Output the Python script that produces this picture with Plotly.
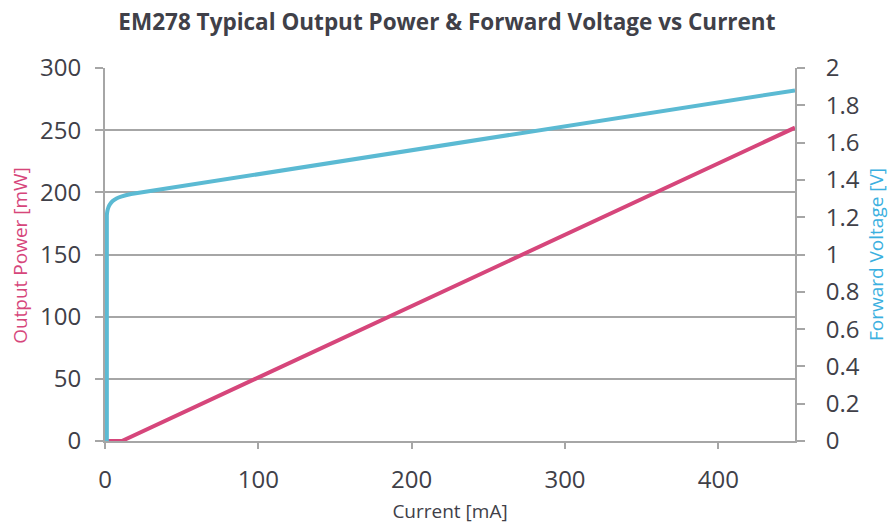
import plotly.graph_objects as go

# Data
power_current = [0, 11, 450]
power_mw = [0, 0, 252]

volt_current = [1.2, 1.2, 1.6, 2.3, 3.3, 5, 7.5, 10.5, 17, 450]
volt_v = [0, 1.21, 1.235, 1.255, 1.27, 1.287, 1.30, 1.31, 1.324, 1.88]

x_ticks = [0, 100, 200, 300, 400]
title_text = "EM278 Typical Output Power & Forward Voltage vs Current"
left_title = "Output Power [mW]"

PINK = "#d6467b"
BLUE = "#5bbad3"
GRID = "#a6a6a6"
TXT = "#404048"
FONT = "Open Sans"

fig = go.Figure()
fig.add_trace(go.Scatter(x=power_current, y=power_mw, mode="lines",
                         line=dict(color=PINK, width=4), yaxis="y", showlegend=False))
fig.add_trace(go.Scatter(x=volt_current, y=volt_v, mode="lines",
                         line=dict(color=BLUE, width=4, shape="spline", smoothing=0.3),
                         yaxis="y2", showlegend=False))

fig.update_layout(
    width=892, height=528,
    paper_bgcolor="white", plot_bgcolor="white",
    margin=dict(l=105, r=97, t=68, b=87, autoexpand=False),
    font=dict(family=FONT, color=TXT),
    title=dict(text="<b>" + title_text + "</b>", x=0.501, xanchor="center",
               y=0.959, yref="container", yanchor="middle",
               font=dict(size=22.5, color=TXT, family=FONT)),
    xaxis=dict(range=[0, 450], tickvals=x_ticks, showgrid=False,
               showline=True, linecolor=GRID, linewidth=2,
               ticks="outside", ticklen=6, tickcolor=GRID, tickwidth=2,
               tickfont=dict(size=24, color=TXT), zeroline=False, automargin=False,
               ticklabelstandoff=10,
               title=dict(text="Current [mA]", font=dict(size=19, color=TXT), standoff=11)),
    yaxis=dict(range=[0, 300], dtick=50, showgrid=True, gridcolor=GRID, gridwidth=1.5,
               showline=True, linecolor=GRID, linewidth=2,
               ticks="outside", ticklen=8, tickcolor=GRID, tickwidth=2,
               tickfont=dict(size=24, color=TXT), zeroline=False, automargin=False,
               ticklabelstandoff=9),
    yaxis2=dict(range=[0, 2], dtick=0.2, overlaying="y", side="right", showgrid=False,
                showline=True, linecolor=GRID, linewidth=2,
                ticks="outside", ticklen=8, tickcolor=GRID, tickwidth=2,
                tickfont=dict(size=24, color=TXT), zeroline=False, automargin=False,
                ticklabelstandoff=16,
                title=dict(text="Forward Voltage [V]", font=dict(size=19, color="#3bb0e0"), standoff=11)),
    annotations=[dict(text=left_title, xref="paper", yref="paper",
                      x=-0.1232, y=0.499, xanchor="center", yanchor="middle",
                      textangle=-90, showarrow=False,
                      font=dict(size=19, color=PINK, family=FONT))],
)

fig.write_html("out.html", config={"displayModeBar": False},
               post_script="document.body.style.margin='0px';")
